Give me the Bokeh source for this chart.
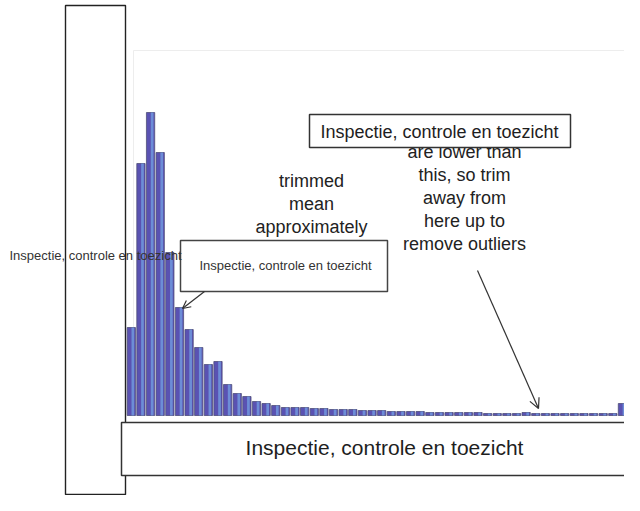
from bokeh.plotting import figure
from bokeh.models import Range1d, Arrow, OpenHead
from bokeh.core.properties import value
from bokeh.embed import file_html
from bokeh.resources import INLINE

# ---- data (histogram counts per bin) ----
bins = list(range(52))
counts = [88, 252, 303, 263, 163, 108, 86, 68, 51, 54,
          31, 22, 19, 14, 12, 10, 8, 8, 8, 7,
          7, 6, 6, 6, 5, 5, 5, 4, 4, 4,
          4, 3, 3, 3, 3, 3, 3, 2, 2, 2,
          2, 3, 2, 2, 2, 2, 2, 2, 2, 2,
          2, 12]
label_main = "Inspectie, controle en toezicht"
note_mean = ["trimmed", "mean", "approximately"]
note_trim = ["are lower than", "this, so trim", "away from", "here up to", "remove outliers"]

# ---- layout helpers (reference pixel -> data) ----
W, H = 624, 495
SX = 9.63
BASE = 415


def X(px):
    return (px - 126) / SX


def Y(py):
    return BASE - py


p = figure(width=W, height=H, x_range=Range1d(X(0), X(W)),
           y_range=Range1d(Y(H), Y(0)),
           x_axis_location=None, y_axis_location=None,
           output_backend="svg", toolbar_location=None, min_border=0)
p.grid.visible = False
p.outline_line_color = None
p.background_fill_color = "white"

FONT = value("Liberation Sans")

# faint chart frame
p.quad(left=[X(133)], right=[X(628)], top=[Y(50)], bottom=[Y(415)],
       fill_color=None, line_color="#ededed", line_width=1)

# histogram bars
xs = [b + 0.5 for b in bins]
p.vbar(x=xs, top=counts, bottom=0, width=0.86, fill_color="#5a52b2",
       line_color="#4f4f78", line_width=0.8)
p.vbar(x=[b + 0.66 for b in bins], top=counts, bottom=0, width=0.28,
       fill_color="#6f93da", line_color=None, fill_alpha=0.9)

# left tall box
p.quad(left=[X(65)], right=[X(125)], top=[Y(5)], bottom=[Y(494)],
       fill_color="white", fill_alpha=0.0, line_color="#222222", line_width=1.4)

# bottom box
p.quad(left=[X(121)], right=[X(645)], top=[Y(422)], bottom=[Y(475)],
       fill_color="white", line_color="#333333", line_width=1.5)
p.text(x=[X(384)], y=[Y(447)], text=[label_main], text_font=FONT,
       text_font_size="21px", text_align="center", text_baseline="middle",
       text_color="#1e1e1e")

# "trimmed mean approximately"
p.text(x=[X(311)] * 3, y=[Y(180), Y(203), Y(226)], text=note_mean,
       text_font=FONT, text_font_size="18px", text_align="center",
       text_baseline="middle", text_color="#222222")

# "are lower than ..." note
p.text(x=[X(464)] * 5, y=[Y(151), Y(174), Y(197), Y(220), Y(243)], text=note_trim,
       text_font=FONT, text_font_size="18px", text_align="center",
       text_baseline="middle", text_color="#222222")

# top box
p.quad(left=[X(309)], right=[X(570)], top=[Y(114)], bottom=[Y(147)],
       fill_color="white", line_color="#333333", line_width=1.5)
p.text(x=[X(439)], y=[Y(131)], text=[label_main], text_font=FONT,
       text_font_size="18px", text_align="center", text_baseline="middle",
       text_color="#1e1e1e")

# small box
p.quad(left=[X(180)], right=[X(387)], top=[Y(240)], bottom=[Y(291)],
       fill_color="white", line_color="#444444", line_width=1.5)
p.text(x=[X(285)], y=[Y(265)], text=[label_main], text_font=FONT,
       text_font_size="13px", text_align="center", text_baseline="middle",
       text_color="#333333")

# arrows
p.add_layout(Arrow(end=OpenHead(size=10, line_width=1.2, line_color="#333333"),
                   x_start=X(477), y_start=Y(270), x_end=X(538), y_end=Y(408),
                   line_color="#333333", line_width=1.2))
p.add_layout(Arrow(end=OpenHead(size=8, line_width=1.2, line_color="#333333"),
                   x_start=X(204), y_start=Y(291), x_end=X(182), y_end=Y(308),
                   line_color="#333333", line_width=1.2))

# left overlay text
p.text(x=[X(9)], y=[Y(255)], text=[label_main], text_font=FONT,
       text_font_size="13px", text_align="left", text_baseline="middle",
       text_color="#333333")

open("out.html", "w").write(file_html(p, INLINE))
